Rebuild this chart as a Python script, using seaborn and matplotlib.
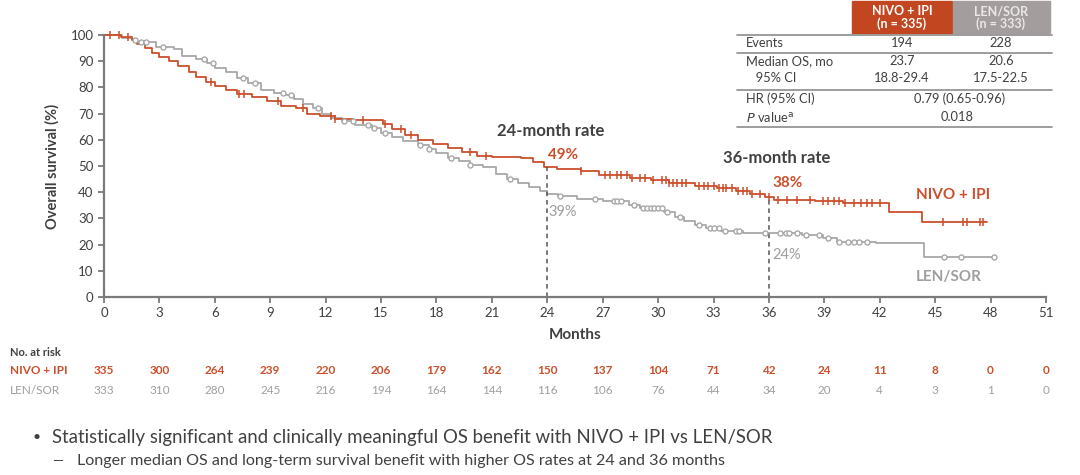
import numpy as np
import pandas as pd
import seaborn as sns
import matplotlib
matplotlib.use("Agg")
import matplotlib.pyplot as plt
from matplotlib import transforms
from matplotlib.patches import Rectangle
from matplotlib.lines import Line2D

# ---------------- data ----------------
nivo_t = [0, 0.9, 1.5, 1.8, 2.2, 2.6, 3.0, 3.5, 4.0, 4.6, 5.0, 5.5, 6.0, 6.6, 7.2, 8.0, 8.8, 9.6,
          10.4, 11.0, 11.7, 12.5, 13.5, 15.1, 15.6, 16.3, 17.0, 17.8, 18.6, 19.4, 20.2, 21.0,
          22.6, 23.2, 23.8, 24.5, 25.8, 26.8, 28.5, 29.6, 30.6, 32.0, 33.2, 34.2, 35.0, 35.8,
          36.3, 38.5, 40.0, 42.5, 44.3, 47.8]
nivo_s = [100, 99.4, 98, 96.5, 95, 93, 91.5, 90, 88, 86, 84, 82, 80.5, 79, 77.5, 76.5, 75, 73,
          72, 70, 69, 68, 67.5, 66, 64, 62, 60, 58.5, 57, 55.5, 54, 53.5,
          53, 51.5, 49.5, 49, 48, 46.5, 45.5, 44.5, 43.5, 42.5, 41.5, 40.5, 39.5, 38,
          37, 36.5, 35.8, 32.6, 28.8, 28.8]
nivo_cens = [0.3, 0.8, 1.3, 5.8, 7.3, 7.6, 9.4, 10.8, 12.3, 12.5, 14.0, 15.2, 16.1, 16.6, 19.8,
             20.7, 25.8, 27.1, 27.4, 27.8, 28.0, 28.3, 28.6, 29.0, 29.3, 29.7, 30.2, 30.4, 30.6,
             30.8, 31.0, 31.3, 31.5, 32.2, 32.5, 32.7, 33.0, 33.3, 33.5, 33.7, 34.0, 34.3, 34.6,
             34.8, 35.1, 35.5, 36.0, 36.5, 37.0, 37.5, 38.2, 38.9, 39.2, 39.5, 39.8, 40.1, 40.6,
             41.0, 41.3, 41.6, 42.0, 45.4, 46.5, 46.7, 47.4, 47.6]

len_t = [0, 1.0, 1.5, 1.8, 2.8, 3.8, 4.2, 5.0, 5.6, 6.0, 6.6, 7.2, 7.8, 8.5, 9.2, 9.8, 10.3, 10.8,
         11.3, 11.8, 12.3, 12.9, 13.6, 14.5, 15.0, 15.6, 16.2, 17.0, 17.6, 18.0, 18.6, 19.2,
         19.8, 20.5, 21.2, 21.8, 22.4, 23.0, 23.6, 24.0, 24.6, 25.6, 27.0, 28.4, 29.0, 30.3,
         30.9, 31.4, 32.0, 32.6, 33.4, 34.6, 37.8, 38.9, 39.7, 41.8, 44.4, 48.2]
len_s = [100, 99, 98, 97.5, 95.5, 94.5, 92, 91, 89.5, 87.5, 86, 83.5, 81.5, 79, 78, 77, 75.5, 73.5,
         72, 70, 68.5, 67, 65.5, 64.5, 62.5, 61, 59.5, 58, 56.5, 55, 53, 52,
         50.5, 49.5, 47, 45, 43.5, 42, 40.5, 39.5, 38.5, 37.5, 36.5, 35, 34, 32.5,
         30.5, 29, 27.5, 26.2, 25.2, 24.5, 23.8, 22.4, 21.1, 20.5, 15.1, 15.1]
len_cens = [1.7, 2.0, 2.3, 3.2, 5.4, 5.9, 7.5, 8.2, 9.7, 10.1, 11.6, 13.0, 13.5, 14.3, 14.6, 15.2,
            17.1, 17.6, 18.8, 19.8, 22.0, 24.7, 26.6, 27.6, 27.8, 28.0, 28.7, 29.2, 29.4, 29.6,
            29.8, 30.0, 30.2, 30.5, 31.2, 32.2, 32.8, 33.0, 33.3, 33.6, 34.2, 34.4, 35.8, 36.6,
            36.9, 37.1, 37.5, 38.0, 38.7, 39.2, 39.8, 40.3, 40.6, 40.9, 41.3, 45.5, 46.4, 48.2]

risk_months = list(range(0, 52, 3))
nivo_risk = [335, 300, 264, 239, 220, 206, 179, 162, 150, 137, 104, 71, 42, 24, 11, 8, 0, 0]
len_risk = [333, 310, 280, 245, 216, 194, 164, 144, 116, 106, 76, 44, 34, 20, 4, 3, 1, 0]

rate_months = [24, 36]
nivo_rates = ["49%", "38%"]
len_rates = ["39%", "24%"]

table_rows = ["Events", "Median OS, mo", "   95% CI"]
table_nivo = ["194", "23.7", "18.8-29.4"]
table_len = ["228", "20.6", "17.5-22.5"]
hr_text = "0.79 (0.65-0.96)"
p_text = "0.018"

# ---------------- style ----------------
RED = "#CC4F2B"
REDBOX = "#C2461F"
GRAY = "#A8A8A8"
GRAYTXT = "#9E9E9E"
GRAYBOX = "#A39D9D"
DARK = "#404040"

sns.set_theme(style="white")
plt.rcParams['font.family'] = ['Lato', 'DejaVu Sans']

W, H = 1080, 475
fig = plt.figure(figsize=(W / 100, H / 100), dpi=100)

def fx(px):
    return px / W

def fy(py):
    return 1 - py / H

ax = fig.add_axes([fx(104), fy(297), fx(1046) - fx(104), fy(35) - fy(297)])


def step_val(t, times, surv):
    i = np.searchsorted(times, t, side="right") - 1
    return np.asarray(surv)[np.clip(i, 0, len(surv) - 1)]

df_n = pd.DataFrame({"t": nivo_t, "s": nivo_s})
df_l = pd.DataFrame({"t": len_t, "s": len_s})
sns.lineplot(data=df_l, x="t", y="s", ax=ax, color=GRAY, lw=1.3, drawstyle="steps-post",
             estimator=None, sort=False, clip_on=False)
sns.lineplot(data=df_n, x="t", y="s", ax=ax, color=RED, lw=1.3, drawstyle="steps-post",
             estimator=None, sort=False, clip_on=False)

cn = pd.DataFrame({"t": nivo_cens, "s": step_val(np.array(nivo_cens), nivo_t, nivo_s)})
cl = pd.DataFrame({"t": len_cens, "s": step_val(np.array(len_cens), len_t, len_s)})
ax.scatter(cl["t"], cl["s"], s=13, facecolors="white", edgecolors=GRAY, linewidths=1.0,
           zorder=3, clip_on=False)
ax.scatter(cn["t"], cn["s"], s=40, marker="|", color=RED, linewidths=1.1, zorder=4, clip_on=False)

# dashed landmark lines
for m in rate_months:
    top = float(step_val(m, nivo_t, nivo_s))
    ax.vlines(m, 0, top, colors="#555555", linestyles=(0, (3, 2.5)), lw=1.1, zorder=2)

ax.set_xlim(0, 51)
ax.set_ylim(0, 100)
ax.set_xticks(risk_months)
ax.set_yticks(range(0, 101, 10))
for s in ["top", "right"]:
    ax.spines[s].set_visible(False)
for s in ["left", "bottom"]:
    ax.spines[s].set_color("#7a7a7a")
    ax.spines[s].set_linewidth(1.6)
ax.tick_params(axis="both", which="both", direction="out", length=4.5, width=1.3,
               color="#7a7a7a", labelsize=9.5, labelcolor=DARK, pad=3,
               bottom=True, left=True)
ax.set_xlabel("Months", fontsize=11, fontweight="bold", color=DARK, labelpad=6)
ax.set_ylabel("Overall survival (%)", fontsize=10.5, fontweight="bold", color=DARK, labelpad=8)

# annotations
ax.text(24.2, 63.5, "24-month rate", fontsize=12, fontweight="bold", color=DARK, ha="center", va="center")
ax.text(24.05, 54.3, nivo_rates[0], fontsize=11, fontweight="bold", color=RED, ha="left", va="center")
ax.text(24.05, 32.6, len_rates[0], fontsize=10.5, color=GRAYTXT, ha="left", va="center")
ax.text(36.4, 52.9, "36-month rate", fontsize=12, fontweight="bold", color=DARK, ha="center", va="center")
ax.text(36.2, 43.4, nivo_rates[1], fontsize=11, fontweight="bold", color=RED, ha="left", va="center")
ax.text(36.2, 16.0, len_rates[1], fontsize=10.5, color=GRAYTXT, ha="left", va="center")
ax.text(43.95, 38.9, "NIVO + IPI", fontsize=11, fontweight="bold", color=RED, ha="left", va="center")
ax.text(43.95, 7.8, "LEN/SOR", fontsize=11, fontweight="bold", color=GRAYTXT, ha="left", va="center")

# number at risk
bt = transforms.blended_transform_factory(ax.transData, fig.transFigure)
fig.text(fx(10), fy(353), "No. at risk", fontsize=8, fontweight="bold", color=DARK, va="center")
fig.text(fx(10), fy(371), "NIVO + IPI", fontsize=8.5, fontweight="bold", color=RED, va="center")
fig.text(fx(10), fy(390), "LEN/SOR", fontsize=8.5, color=GRAYTXT, va="center")
for m, a, b in zip(risk_months, nivo_risk, len_risk):
    ax.text(m, fy(371), str(a), transform=bt, fontsize=8.5, fontweight="bold", color=RED,
            ha="center", va="center")
    ax.text(m, fy(390), str(b), transform=bt, fontsize=8.5, color=GRAYTXT, ha="center", va="center")

# stats table
fig.patches.append(Rectangle((fx(852), fy(33)), fx(951.5) - fx(852), fy(1) - fy(33),
                             transform=fig.transFigure, color=REDBOX, zorder=1))
fig.patches.append(Rectangle((fx(952.5), fy(33)), fx(1050) - fx(952.5), fy(1) - fy(33),
                             transform=fig.transFigure, color=GRAYBOX, zorder=1))
fig.text(fx(902), fy(17.5), "NIVO + IPI\n(n = 335)", fontsize=9, fontweight="bold",
         color="white", ha="center", va="center", linespacing=1.0)
fig.text(fx(1001), fy(17.5), "LEN/SOR\n(n = 333)", fontsize=9, fontweight="bold",
         color="#ece8e8", ha="center", va="center", linespacing=1.0)
for yy in [34.5, 52.5, 89.5, 127]:
    fig.add_artist(Line2D([fx(737), fx(1052)], [fy(yy), fy(yy)], transform=fig.transFigure,
                          color="#8c8c8c", lw=1.2))
row_y = [43, 61, 78]
TF = 9.3
for yy, lab, a, b in zip(row_y, table_rows, table_nivo, table_len):
    fig.text(fx(746), fy(yy), lab, fontsize=TF, color=DARK, va="center")
    fig.text(fx(902), fy(yy), a, fontsize=TF, color=DARK, va="center", ha="center")
    fig.text(fx(1001), fy(yy), b, fontsize=TF, color=DARK, va="center", ha="center")
fig.text(fx(746), fy(99), "HR (95% CI)", fontsize=TF, color=DARK, va="center")
fig.text(fx(960), fy(99), hr_text, fontsize=TF, color=DARK, va="center", ha="center")
fig.text(fx(746), fy(117), r"$\it{P}$ value$^{\rm a}$", fontsize=TF, color=DARK, va="center")
fig.text(fx(957), fy(117), p_text, fontsize=TF, color=DARK, va="center", ha="center")

# bullets
fig.text(fx(32), fy(437), "•", fontsize=10, color=DARK, va="center")
fig.text(fx(52), fy(437),
         "Statistically significant and clinically meaningful OS benefit with NIVO + IPI vs LEN/SOR",
         fontsize=13.4, color=DARK, va="center")
fig.text(fx(52), fy(461), "—", fontsize=10, color=DARK, va="center")
fig.text(fx(77), fy(461),
         "Longer median OS and long-term survival benefit with higher OS rates at 24 and 36 months",
         fontsize=11.6, color=DARK, va="center")

fig.savefig("out.png", dpi=100, facecolor="white")
